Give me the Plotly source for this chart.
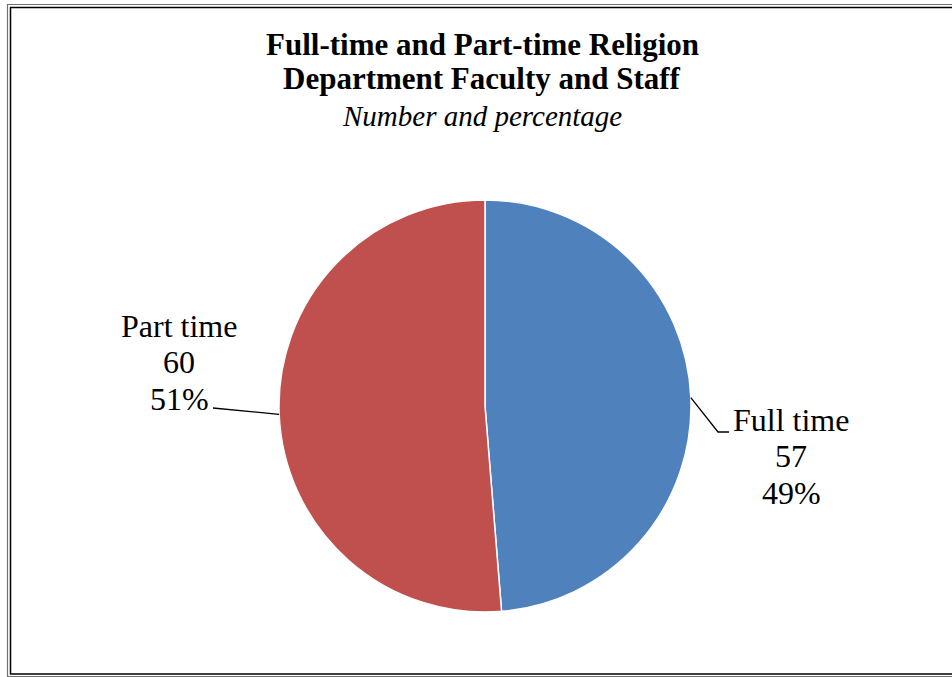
import math
import plotly.graph_objects as go

# data
categories = ["Full time", "Part time"]
counts = [57, 60]
colors = ["#4F81BD", "#C0504D"]

W, H = 952, 677
cx, cy, r = 485, 406, 206  # pie centre / radius in px

total = sum(counts)
pcts = [round(100 * c / total) for c in counts]


def pp(x, y):
    # px -> paper coords (margins are zero)
    return x / W, 1 - y / H


fig = go.Figure(
    go.Pie(
        labels=categories,
        values=counts,
        sort=False,
        direction="clockwise",
        rotation=0,
        marker=dict(colors=colors, line=dict(color="white", width=1.5)),
        textinfo="none",
        hoverinfo="label+value+percent",
        showlegend=False,
        domain=dict(x=[(cx - r) / W, (cx + r) / W],
                    y=[1 - (cy + r) / H, 1 - (cy - r) / H]),
    )
)

serif = "Liberation Serif, Times New Roman, serif"

# title lines
title_lines = [
    ("<b>Full-time and Part-time Religion</b>", 45, 31),
    ("<b>Department Faculty and Staff</b>", 79, 31),
    ("<i>Number and percentage</i>", 115.5, 29),
]
for txt, y, size in title_lines:
    x0, y0 = pp(482, y)
    fig.add_annotation(text=txt, x=x0, y=y0, xref="paper", yref="paper",
                       showarrow=False, xanchor="center", yanchor="middle",
                       font=dict(family=serif, size=size, color="black"))

# label blocks: centre x, first line centre y, leader bend points
label_pos = [
    dict(x=791, y=419.5, leader=[(718, 432), (729, 432)]),
    dict(x=179, y=325.5, leader=[(213, 408)]),
]
line_gap = 36.8

cum = 0
for cat, val, pct, lp in zip(categories, counts, pcts, label_pos):
    mid = 2 * math.pi * (cum + val / 2) / total
    cum += val
    ex = cx + r * math.sin(mid)
    ey = cy - r * math.cos(mid)

    for k, txt in enumerate([cat, str(val), f"{pct}%"]):
        x0, y0 = pp(lp["x"], lp["y"] + k * line_gap)
        fig.add_annotation(text=txt, x=x0, y=y0, xref="paper", yref="paper",
                           showarrow=False, xanchor="center", yanchor="middle",
                           font=dict(family=serif, size=32, color="black"))

    pts = [(ex, ey)] + lp["leader"]
    path = "M " + " L ".join(f"{pp(px, py)[0]:.5f},{pp(px, py)[1]:.5f}" for px, py in pts)
    fig.add_shape(type="path", path=path, xref="paper", yref="paper",
                  line=dict(color="black", width=1.3))

# double frame round the chart area
x0, y0 = pp(7.5, 4.5)
x1, y1 = pp(965, 676.5)
fig.add_shape(type="rect", x0=x0, y0=y0, x1=x1, y1=y1, xref="paper", yref="paper",
              line=dict(color="#707070", width=1.2))
x0, y0 = pp(10.5, 7.5)
x1, y1 = pp(962, 674)
fig.add_shape(type="rect", x0=x0, y0=y0, x1=x1, y1=y1, xref="paper", yref="paper",
              line=dict(color="black", width=1.5))

fig.update_layout(
    width=W,
    height=H,
    margin=dict(l=0, r=0, t=0, b=0),
    paper_bgcolor="white",
    plot_bgcolor="white",
    font=dict(family=serif, color="black"),
)

# page body has a default 8px margin; drop it so the figure sits at 0,0
fig.write_html("out.html", config={"displayModeBar": False},
               post_script="document.body.style.margin='0px';")
